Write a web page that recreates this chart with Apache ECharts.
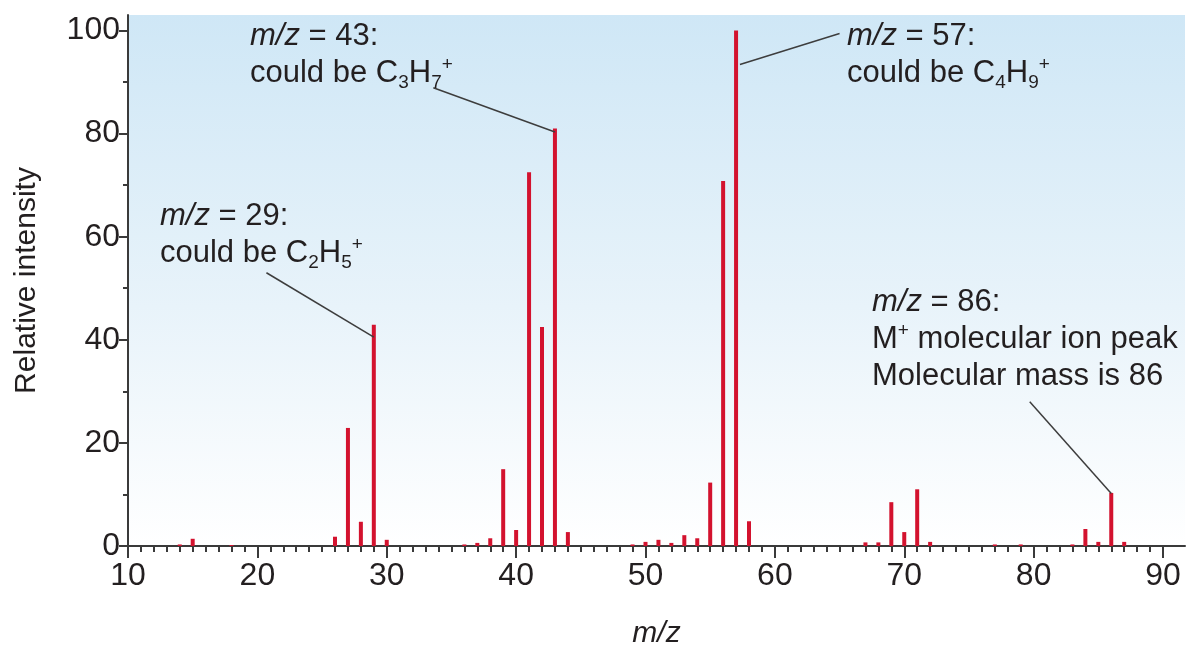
<!DOCTYPE html>
<html>
<head>
<meta charset="utf-8">
<script src="https://cdn.jsdelivr.net/npm/echarts@6/dist/echarts.min.js"></script>
<style>
  html, body { margin: 0; padding: 0; background: #fff; }
  #chart { width: 1187px; height: 645px; }
</style>
</head>
<body>
<div id="chart"></div>
<script>
// mass spectrum peaks
const mz = [14, 15, 18, 26, 27, 28, 29, 30, 36, 37, 38, 39, 40, 41, 42, 43, 44,
  49, 50, 51, 52, 53, 54, 55, 56, 57, 58, 67, 68, 69, 70, 71, 72, 77, 79, 83, 84, 85, 86, 87]
const intensity = [0.3, 1.4, 0.2, 1.8, 22.9, 4.7, 42.9, 1.2, 0.3, 0.6, 1.5, 14.9, 3.1, 72.5, 42.5, 81, 2.7,
  0.3, 0.8, 1.2, 0.6, 2.1, 1.5, 12.3, 70.8, 100, 4.8, 0.7, 0.7, 8.5, 2.7, 11, 0.8, 0.3, 0.3, 0.3, 3.3, 0.8, 10.3, 0.8]

// tick values
const xMajor = [10, 20, 30, 40, 50, 60, 70, 80, 90]
const yMajor = [0, 20, 40, 60, 80, 100]
const yMinor = [10, 30, 50, 70, 90]

// leader lines: [from m/z, from intensity, to m/z, to intensity]
const leaders = [
  [20.7, 53, 29, 40.5],
  [33.6, 88.9, 43, 80.3],
  [65.0, 99.4, 57.3, 93.4],
  [79.7, 28, 86, 10.2]
]

let xMinor = []
for (let v = 11; v < 90; v++) {
  if (v % 10 !== 0) xMinor.push(v)
}

const FONT = 'Liberation Sans, Arial, sans-serif'
const TXT = '#231f20'

let peaks = mz.map((m, i) => [m, intensity[i]])

let rich = {
  i: { fontStyle: 'italic', fontSize: 31, lineHeight: 37, fontFamily: FONT, fill: TXT },
  sub: { fontSize: 19, lineHeight: 20, verticalAlign: 'bottom', fontFamily: FONT, fill: TXT },
  sup: { fontSize: 19, lineHeight: 18, verticalAlign: 'top', fontFamily: FONT, fill: TXT }
}

function label (x, y, text) {
  return {
    type: 'text',
    left: x,
    top: y,
    z: 100,
    style: {
      text: text,
      rich: rich,
      fontSize: 31,
      lineHeight: 37,
      fontFamily: FONT,
      fill: TXT
    }
  }
}

let chart = echarts.init(document.getElementById('chart'))
let option = {
  animation: false,
  backgroundColor: '#fff',
  grid: {
    left: 128,
    right: 2,
    top: 15,
    bottom: 99,
    outerBoundsMode: 'none',
    containLabel: false,
    show: true,
    borderWidth: 0,
    backgroundColor: {
      type: 'linear', x: 0, y: 0, x2: 0, y2: 1,
      colorStops: [
        { offset: 0, color: '#cfe7f6' },
        { offset: 0.55, color: '#e8f3fa' },
        { offset: 1, color: '#ffffff' }
      ]
    }
  },
  xAxis: [
    {
      type: 'value',
      min: 10,
      max: 91.7,
      position: 'bottom',
      splitLine: { show: false },
      axisLine: { lineStyle: { color: '#3a3a3a', width: 2 } },
      axisTick: { customValues: xMajor, length: 12, lineStyle: { color: '#3a3a3a', width: 2 } },
      axisLabel: { customValues: xMajor, margin: 14, fontSize: 32, fontFamily: FONT, color: TXT },
      name: 'm/z',
      nameLocation: 'middle',
      nameGap: 73,
      nameTextStyle: { fontSize: 30, fontStyle: 'italic', fontFamily: FONT, color: TXT }
    },
    {
      type: 'value',
      min: 10,
      max: 91.7,
      position: 'bottom',
      offset: 0,
      splitLine: { show: false },
      axisLine: { show: false },
      axisTick: { customValues: xMinor, length: 6, lineStyle: { color: '#3a3a3a', width: 2 } },
      axisLabel: { show: false }
    }
  ],
  yAxis: [
    {
      type: 'value',
      min: 0,
      max: 103,
      position: 'left',
      splitLine: { show: false },
      axisLine: { show: true, lineStyle: { color: '#3a3a3a', width: 2 } },
      axisTick: { show: true, customValues: yMajor, length: 9, lineStyle: { color: '#3a3a3a', width: 2 } },
      axisLabel: { customValues: yMajor, margin: 8, fontSize: 32, fontFamily: FONT, color: TXT },
      name: 'Relative intensity',
      nameLocation: 'middle',
      nameGap: 86,
      nameTextStyle: { fontSize: 30, fontFamily: FONT, color: TXT }
    },
    {
      type: 'value',
      min: 0,
      max: 103,
      position: 'left',
      offset: 0,
      splitLine: { show: false },
      axisLine: { show: false },
      axisTick: { show: true, customValues: yMinor, length: 5, lineStyle: { color: '#3a3a3a', width: 2 } },
      axisLabel: { show: false }
    }
  ],
  series: [
    {
      type: 'bar',
      xAxisIndex: 0,
      yAxisIndex: 0,
      barWidth: 4,
      itemStyle: { color: '#d3122e' },
      data: peaks,
      markLine: {
        silent: true,
        symbol: 'none',
        label: { show: false },
        lineStyle: { type: 'solid', color: '#3d3d3d', width: 1.5 },
        data: leaders.map(l => [{ coord: [l[0], l[1]] }, { coord: [l[2], l[3]] }])
      }
    }
  ],
  graphic: [
    label(160, 198, '{i|m/z} = 29:\ncould be C{sub|2}H{sub|5}{sup|+}'),
    label(250, 18, '{i|m/z} = 43:\ncould be C{sub|3}H{sub|7}{sup|+}'),
    label(847, 18, '{i|m/z} = 57:\ncould be C{sub|4}H{sub|9}{sup|+}'),
    label(872, 284, '{i|m/z} = 86:\nM{sup|+} molecular ion peak\nMolecular mass is 86')
  ]
}
chart.setOption(option)
</script>
</body>
</html>
